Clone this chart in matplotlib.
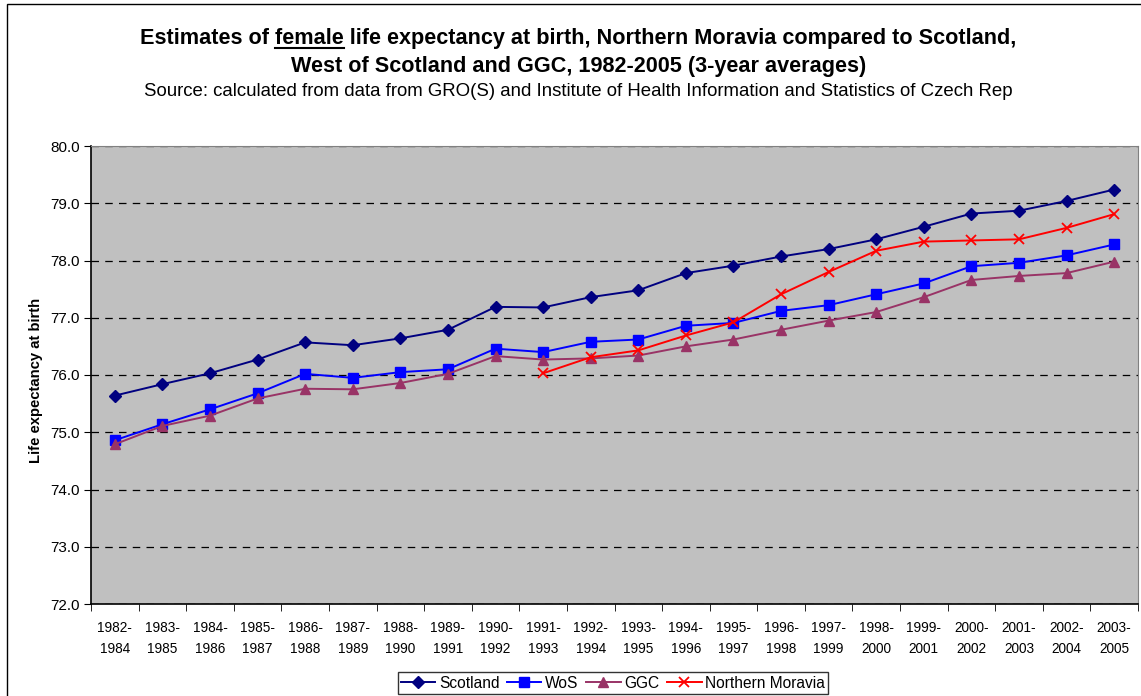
import matplotlib
matplotlib.use("Agg")
import matplotlib.pyplot as plt
from matplotlib.lines import Line2D
from matplotlib.patches import Rectangle
import numpy as np

plt.rcParams['font.family'] = ['Liberation Sans', 'DejaVu Sans']

periods = ["1982-\n1984", "1983-\n1985", "1984-\n1986", "1985-\n1987", "1986-\n1988",
           "1987-\n1989", "1988-\n1990", "1989-\n1991", "1990-\n1992", "1991-\n1993",
           "1992-\n1994", "1993-\n1995", "1994-\n1996", "1995-\n1997", "1996-\n1998",
           "1997-\n1999", "1998-\n2000", "1999-\n2001", "2000-\n2002", "2001-\n2003",
           "2002-\n2004", "2003-\n2005"]

scotland = [75.64, 75.84, 76.03, 76.27, 76.57, 76.52, 76.64, 76.79, 77.19, 77.18, 77.36,
            77.48, 77.78, 77.91, 78.07, 78.20, 78.37, 78.59, 78.82, 78.87, 79.04, 79.24]
wos = [74.86, 75.14, 75.40, 75.68, 76.02, 75.95, 76.05, 76.10, 76.46, 76.40, 76.58,
       76.62, 76.86, 76.91, 77.12, 77.22, 77.41, 77.60, 77.90, 77.96, 78.09, 78.28]
ggc = [74.79, 75.11, 75.29, 75.59, 75.76, 75.75, 75.86, 76.02, 76.33, 76.27, 76.29,
       76.34, 76.50, 76.62, 76.79, 76.95, 77.10, 77.36, 77.66, 77.73, 77.78, 77.98]
moravia = [None] * 9 + [76.03, 76.31, 76.43, 76.69, 76.92, 77.41, 77.80, 78.17, 78.33,
                        78.35, 78.37, 78.57, 78.81]

W, H = 1141, 696
fig = plt.figure(figsize=(W / 100, H / 100), dpi=100)
fig.patch.set_facecolor('white')

# outer chart frame
fig.add_artist(Rectangle((7 / W, -0.01), 1.02 - 7 / W, 1 - 4 / H + 0.01,
                         transform=fig.transFigure, fill=False, edgecolor='black',
                         linewidth=1.0))

left, right, top, bottom = 91 / W, 1138 / W, 146 / H, 604 / H
ax = fig.add_axes([left, 1 - bottom, right - left, bottom - top])
ax.set_facecolor('#C0C0C0')

x = np.arange(len(periods))
mor = np.array([np.nan if v is None else v for v in moravia], dtype=float)

ax.plot(x, scotland, color='#000080', marker='D', markersize=6, linewidth=1.4,
        label='Scotland')
ax.plot(x, wos, color='#0000FF', marker='s', markersize=7, linewidth=1.4, label='WoS')
ax.plot(x, ggc, color='#993366', marker='^', markersize=7, linewidth=1.4, label='GGC')
ax.plot(x, mor, color='#FF0000', marker='x', markersize=7, markeredgewidth=1.3,
        linewidth=1.4, label='Northern Moravia')

ax.set_xlim(-0.5, len(periods) - 0.5)
ax.set_ylim(72, 80)
ax.set_yticks(np.arange(72, 80.5, 1))
ax.set_yticklabels([f"{v:.1f}" for v in np.arange(72, 80.5, 1)], fontsize=11)
ax.yaxis.grid(True, color='black', linestyle=(0, (6, 5)), linewidth=0.9)
ax.set_axisbelow(True)

ax.set_xticks(x)
ax.set_xticklabels(periods, fontsize=9.8, linespacing=1.7)
ax.set_xticks(np.arange(-0.5, len(periods), 1), minor=True)
ax.tick_params(axis='x', which='major', length=0, pad=12)
ax.tick_params(axis='x', which='minor', length=5, direction='out', color='black')
ax.tick_params(axis='y', length=5, direction='out', pad=3)

for s in ['top', 'right']:
    ax.spines[s].set_color('#808080')
for s in ['left', 'bottom']:
    ax.spines[s].set_color('black')
    ax.spines[s].set_linewidth(1.2)

ax.set_ylabel('Life expectancy at birth', fontsize=10.7, fontweight='bold')
ax.yaxis.set_label_coords((43 - 91) / 1047, (604 - 380) / 458)

# titles
cx = 578.5 / W
TFS = 15.6
line1 = "Estimates of female life expectancy at birth, Northern Moravia compared to Scotland,"
t1 = fig.text(cx, 1 - 44 / H, line1, ha='center', va='baseline', fontsize=TFS,
              fontweight='bold')
fig.text(cx, 1 - 72 / H, "West of Scotland and GGC, 1982-2005 (3-year averages)",
         ha='center', va='baseline', fontsize=TFS, fontweight='bold')
fig.text(cx, 1 - 96 / H,
         "Source: calculated from data from GRO(S) and Institute of Health Information and Statistics of Czech Rep",
         ha='center', va='baseline', fontsize=13.4)

# underline "female"
fig.canvas.draw()
r = fig.canvas.get_renderer()
bb = t1.get_window_extent(r)
def textw(s):
    tt = fig.text(0, 0, s, fontsize=TFS, fontweight='bold')
    w = tt.get_window_extent(r).width
    tt.remove()
    return w
x0 = bb.x0 + textw("Estimates of ")
x1 = bb.x0 + textw("Estimates of female")
uy = 1 - 48 / H
fig.add_artist(Line2D([x0 / fig.bbox.width, x1 / fig.bbox.width], [uy, uy],
                      transform=fig.transFigure, color='black', linewidth=1.5))

leg = ax.legend(loc='center', bbox_to_anchor=((613 / W - left) / (right - left),
                                               (1 - 683 / H - (1 - bottom)) / (bottom - top)),
                ncol=4, fontsize=11.2, frameon=True, fancybox=False, edgecolor='black',
                handlelength=2.2, handletextpad=0.25, columnspacing=0.5,
                borderpad=0.2, borderaxespad=0)
leg.get_frame().set_linewidth(1.0)

fig.savefig('out.png', dpi=100, facecolor='white')
